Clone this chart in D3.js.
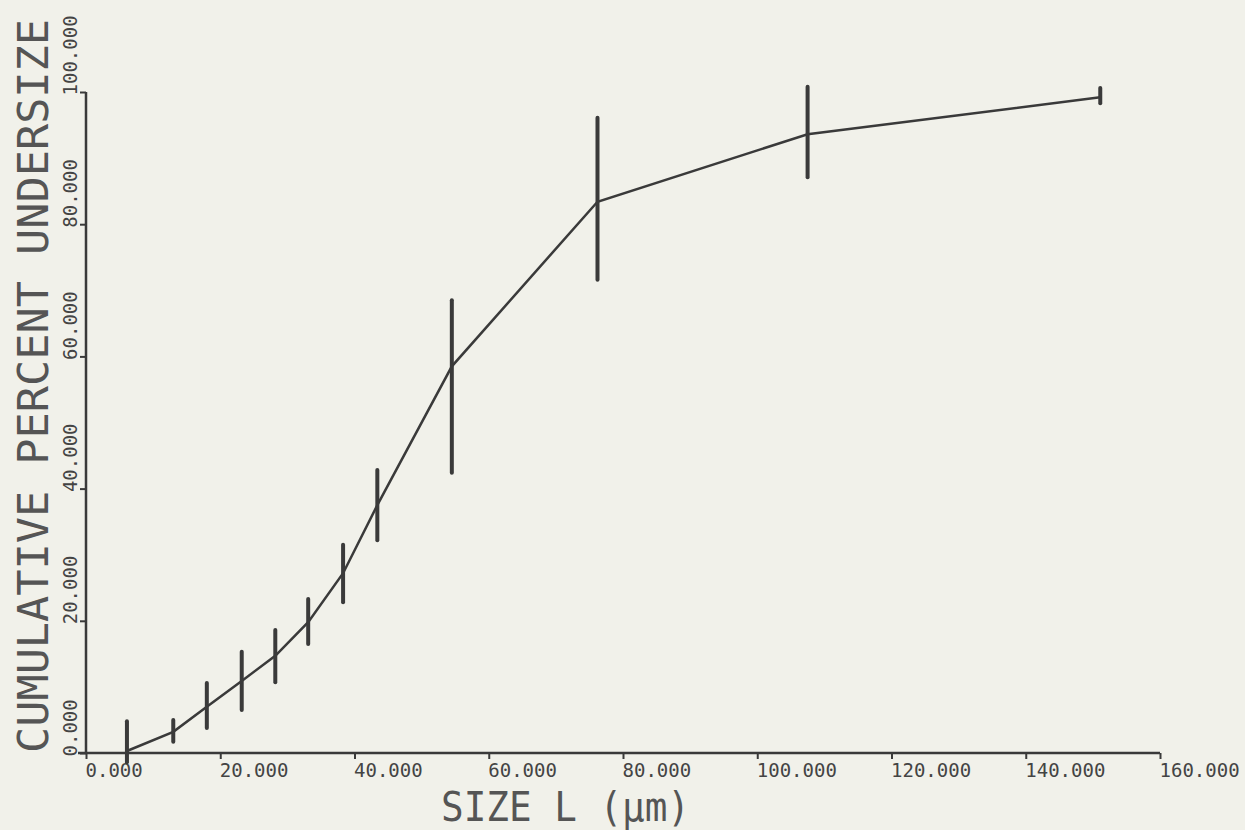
<!DOCTYPE html>
<html lang="en">
<head>
<meta charset="UTF-8">
<title>Cumulative percent undersize</title>
<script src="https://d3js.org/d3.v7.min.js"></script>
<style>
body {
  margin: 0;
  background-color: #f1f1ea;
}
svg {
  display: block;
}
</style>
</head>
<body>
<svg></svg>
<script>
// values
let sizes   = [6.1, 13.0, 18.0, 23.2, 28.2, 33.1, 38.3, 43.4, 54.5, 76.2, 107.5, 151.1];
let percent = [0.3, 3.2, 7.0, 10.9, 14.7, 19.8, 27.2, 37.5, 58.5, 83.4, 93.6, 99.2];
let errLow  = [-1.4, 1.7, 3.8, 6.5, 10.7, 16.5, 22.8, 32.2, 42.4, 71.6, 87.1, 98.3];
let errHigh = [4.8, 5.0, 10.6, 15.3, 18.6, 23.3, 31.5, 42.8, 68.5, 96.1, 100.8, 100.6];
let xTicks = [0, 20, 40, 60, 80, 100, 120, 140, 160];
let yTicks = [0, 20, 40, 60, 80, 100];

let width = 1245;
let height = 830;
let ink = "#3a3a3a";
let mono = "'DejaVu Sans Mono', monospace";

let svg = d3.select("svg")
  .attr("width", width)
  .attr("height", height)
  .style("font-family", mono);

svg.append("rect")
  .attr("width", width)
  .attr("height", height)
  .attr("fill", "#f1f1ea");

let x = d3.scaleLinear().domain([0, 160]).range([86, 1160]);
let y = d3.scaleLinear().domain([0, 100]).range([753, 92]);

// x axis
let bottom = svg.append("g")
  .attr("transform", "translate(0," + y(0) + ")")
  .call(d3.axisBottom(x).tickValues(xTicks).tickSize(6).tickSizeOuter(0).tickFormat(d3.format(".3f")))
  .attr("font-family", mono)
  .attr("font-size", 19);
bottom.select(".domain").remove();
bottom.selectAll("line").attr("stroke", ink).attr("stroke-width", 2);
bottom.selectAll("text")
  .attr("text-anchor", "start")
  .attr("x", -1)
  .attr("y", 24)
  .attr("dy", 0)
  .attr("fill", "#444");
bottom.append("line")
  .attr("x1", x(0) - 8).attr("x2", x(160))
  .attr("stroke", ink).attr("stroke-width", 2.5);

// y axis
let left = svg.append("g")
  .attr("transform", "translate(" + x(0) + ",0)")
  .call(d3.axisLeft(y).tickValues(yTicks).tickSize(6).tickSizeOuter(0).tickFormat(d3.format(".3f")))
  .attr("font-family", mono)
  .attr("font-size", 19);
left.select(".domain").remove();
left.selectAll("line").attr("stroke", ink).attr("stroke-width", 2);
left.selectAll("text")
  .attr("transform", "rotate(-90)")
  .attr("text-anchor", "start")
  .attr("x", -3)
  .attr("y", -9)
  .attr("dy", 0)
  .attr("fill", "#444");
left.append("line")
  .attr("y1", y(0)).attr("y2", y(100))
  .attr("stroke", ink).attr("stroke-width", 2.5);

// titles
svg.append("text")
  .attr("transform", "translate(48," + y(0) + ") rotate(-90)")
  .attr("text-anchor", "start")
  .attr("font-size", 42)
  .attr("textLength", 734)
  .attr("lengthAdjust", "spacingAndGlyphs")
  .attr("fill", "#555")
  .text("CUMULATIVE PERCENT UNDERSIZE");

svg.append("text")
  .attr("x", 441)
  .attr("y", 821)
  .attr("font-size", 40)
  .attr("textLength", 249)
  .attr("lengthAdjust", "spacingAndGlyphs")
  .attr("fill", "#555")
  .text("SIZE L (\u03bcm)");

// curve
let points = sizes.map((s, i) => [s, percent[i]]);
svg.append("path")
  .attr("d", d3.line().x(d => x(d[0])).y(d => y(d[1]))(points))
  .attr("fill", "none")
  .attr("stroke", ink)
  .attr("stroke-width", 2.5);

// error bars
svg.selectAll(".err").data(sizes).enter().append("line")
  .attr("class", "err")
  .attr("x1", d => x(d))
  .attr("x2", d => x(d))
  .attr("y1", (d, i) => y(errLow[i]))
  .attr("y2", (d, i) => y(errHigh[i]))
  .attr("stroke", ink)
  .attr("stroke-width", 4)
  .attr("stroke-linecap", "round");
</script>
</body>
</html>
